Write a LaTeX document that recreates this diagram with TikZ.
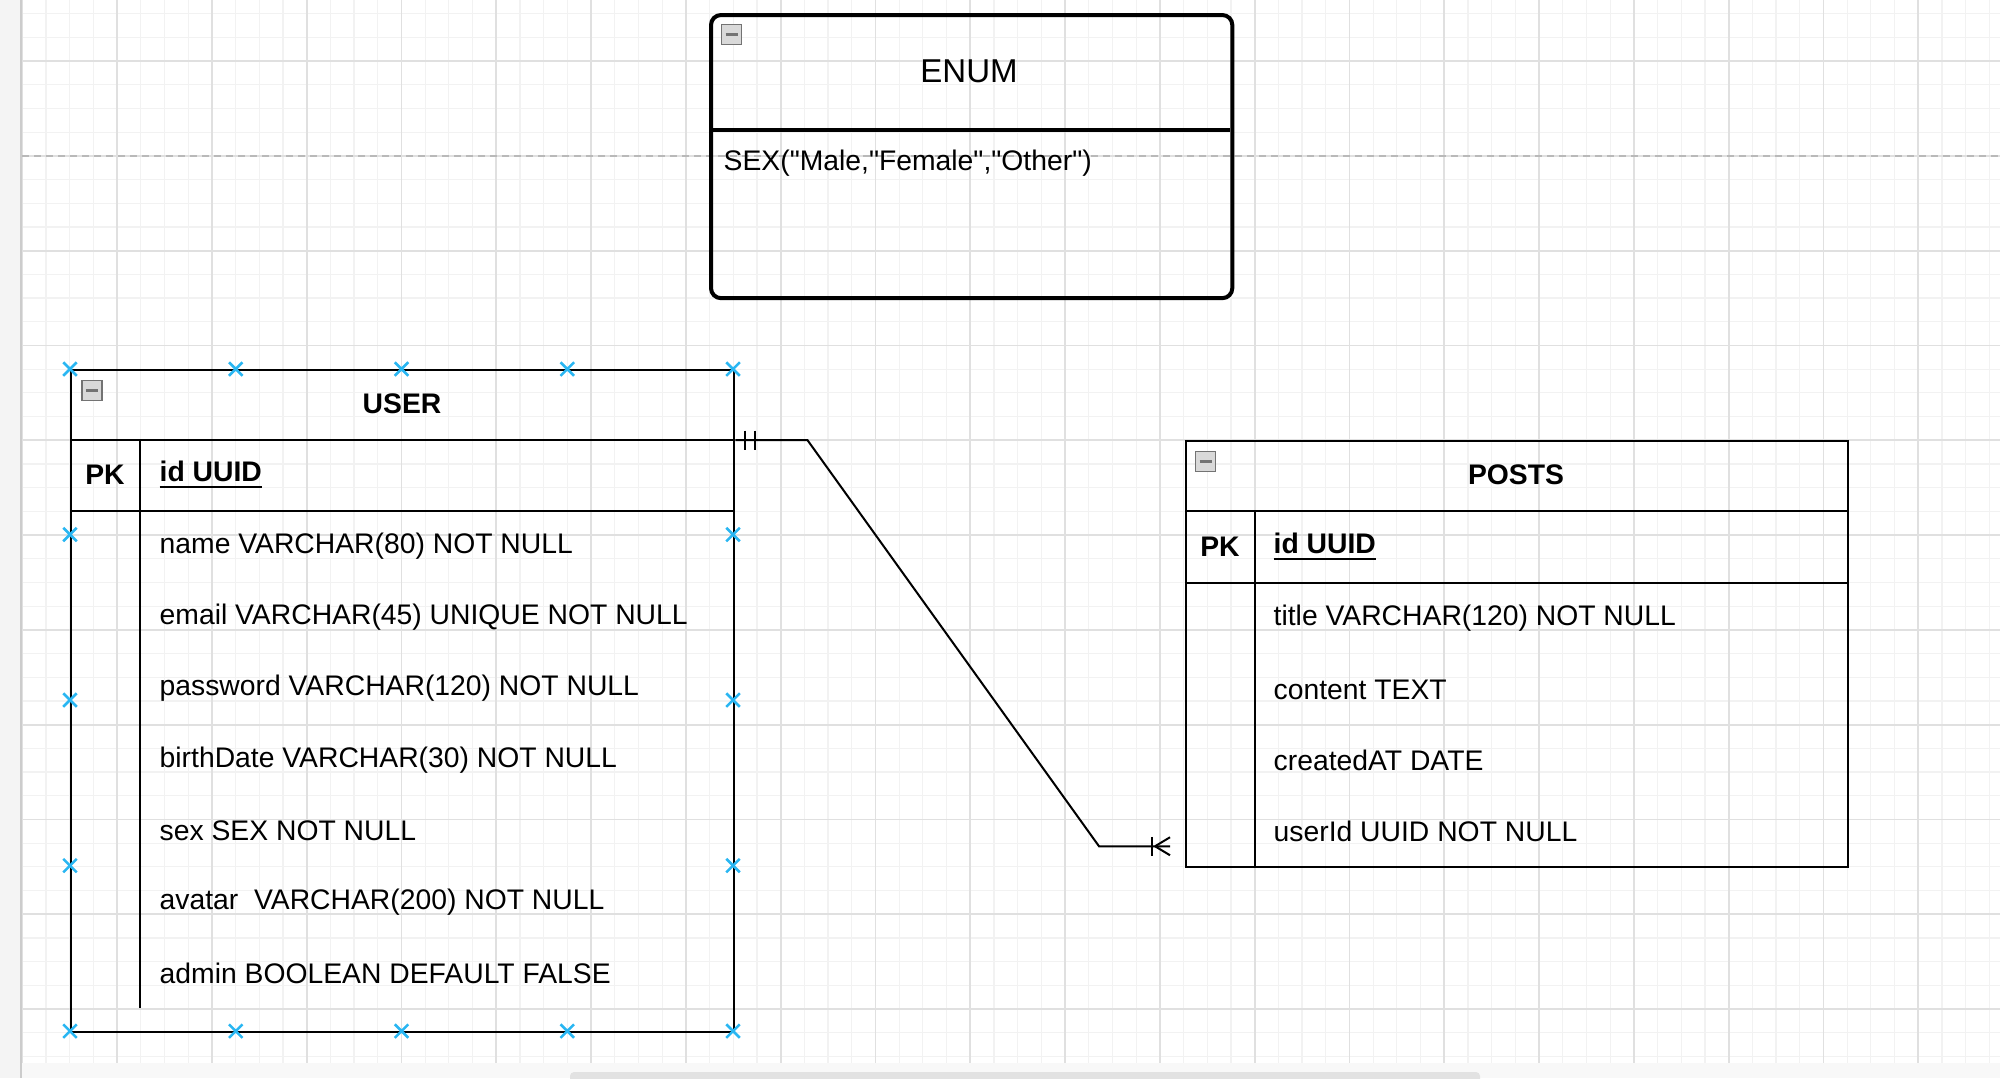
\documentclass[tikz,border=0pt]{standalone}
\usepackage{fontspec}
\setmainfont{Liberation Sans}[Ligatures=TeXReset]
\usetikzlibrary{calc,shapes.misc}

\definecolor{gridmajor}{HTML}{E0E0E0}
\definecolor{gridminor}{HTML}{F2F2F2}
\definecolor{sidegray}{HTML}{F4F4F4}
\definecolor{scrollgray}{HTML}{E2E2E2}
\definecolor{handleblue}{HTML}{29B6F2}
\newcommand\erfont{\fontsize{8.05pt}{9.7pt}\selectfont}

\begin{document}
\begin{tikzpicture}[x=0.01cm, y=-0.01cm,
    every node/.style={font=\erfont},
    tbl/.style={draw, line width=0.02cm, inner sep=0, anchor=north west},
    sep/.style={line width=0.02cm},
    ttl/.style={font=\erfont\bfseries},
    pkcell/.style={font=\erfont\bfseries, inner sep=0},
    fld/.style={anchor=west, inner sep=0},
    rel/.style={line width=0.02cm},
    minus/.style={draw=gray!90!black, fill=gray!30, line width=0.015cm,
        minimum size=0.2cm, inner sep=0,
        path picture={\draw[line width=0.03cm]
            ([xshift=-0.06cm]path picture bounding box.center) --
            ([xshift=0.06cm]path picture bounding box.center);}},
    handle/.style={cross out, draw=handleblue, line width=0.025cm,
        minimum size=0.11cm, inner sep=0}
    ]
    \useasboundingbox (0,0) rectangle (2000,1078);

    % canvas, grid and page break
    \fill[sidegray] (0,0) rectangle (21,1078);
    \fill[sidegray!60] (21,1063) rectangle (2000,1078);
    \fill[scrollgray, rounded corners=0.04cm] (570,1072) rectangle (1480,1086);
    \begin{scope}
        \clip (22,0) rectangle (2000,1063);
        \foreach \i in {0,...,83}
            \draw[gridminor, line width=0.012cm] (22.2+23.7*\i,0) -- (22.2+23.7*\i,1063);
        \foreach \j in {-3,...,42}
            \draw[gridminor, line width=0.012cm] (22,61+23.7*\j) -- (2000,61+23.7*\j);
        \foreach \i in {0,...,20}
            \draw[gridmajor, line width=0.018cm] (22.2+94.8*\i,0) -- (22.2+94.8*\i,1063);
        \foreach \j in {0,...,10}
            \draw[gridmajor, line width=0.018cm] (22,61+94.8*\j) -- (2000,61+94.8*\j);
    \end{scope}
    \draw[gray!40, line width=0.015cm] (21,0) -- (21,1078);
    \draw[gray!55, line width=0.015cm, dash pattern=on 0.07cm off 0.05cm] (22,155.8) -- (2000,155.8);

    % ENUM
    \node[tbl, line width=0.04cm, rounded corners=0.1cm,
        minimum width=5.21cm, minimum height=2.83cm] (enum) at (709,13) {};
    \draw[line width=0.04cm] (enum.north west) ++(0,117) -- ++(521,0);
    \node[minus] (enummin) at (731.5,34.5) {};
    \node[font=\fontsize{9.4pt}{11pt}\selectfont] (enumtitle) at (969,71) {ENUM};
    \node[fld] (sex) at (723,163) {SEX("Male,"Female","Other")};

    % USER
    \node[tbl, minimum width=6.63cm, minimum height=6.62cm] (user) at (70,369) {};
    \draw[sep] (user.north west) ++(0,71) -- ++(663,0);
    \draw[sep] (user.north west) ++(0,142) -- ++(663,0);
    \draw[sep] (user.north west) ++(70,71) -- ++(0,568);
    \node[minus] (usermin) at (92,390.5) {};
    \node[ttl] (usertitle) at (402,404) {USER};
    \node[pkcell] (userpk) at (105,475) {PK};
    \node[fld, font=\erfont\bfseries] (userid) at (159,475) {\underline{id UUID}};
    \foreach \t [count=\k] in {name VARCHAR(80) NOT NULL,
        email VARCHAR(45) UNIQUE NOT NULL,
        password VARCHAR(120) NOT NULL,
        birthDate VARCHAR(30) NOT NULL,
        sex SEX NOT NULL,
        avatar\ \ VARCHAR(200) NOT NULL,
        admin BOOLEAN DEFAULT FALSE}
        \node[fld] (user\k) at (159,475+71.2*\k) {\t};

    % POSTS
    \node[tbl, minimum width=6.62cm, minimum height=4.26cm] (posts) at (1185,440) {};
    \draw[sep] (posts.north west) ++(0,71) -- ++(662,0);
    \draw[sep] (posts.north west) ++(0,143) -- ++(662,0);
    \draw[sep] (posts.north west) ++(70,71) -- ++(0,355);
    \node[minus] (postsmin) at (1205.5,461.5) {};
    \node[ttl] (poststitle) at (1516,475) {POSTS};
    \node[pkcell] (postspk) at (1220,547) {PK};
    \node[fld, font=\erfont\bfseries] (postsid) at (1273,547) {\underline{id UUID}};
    \foreach \t [count=\k] in {title VARCHAR(120) NOT NULL,
        content TEXT,
        createdAT DATE,
        userId UUID NOT NULL}
        \node[fld] (posts\k) at (1273,547+71.2*\k) {\t};

    % relation user 1 -- n posts
    \path (user.north east) ++(0,71) coordinate (one) ++(72,0) coordinate (bend1);
    \path (posts.south west) ++(-15,-22) coordinate (many) ++(-71,0) coordinate (bend2);
    \draw[rel] (one) -- (bend1) -- (bend2) -- (many);
    \draw[rel] ($(one)+(10,-9.5)$) -- ++(0,19);
    \draw[rel] ($(one)+(20,-9.5)$) -- ++(0,19);
    \draw[rel] ($(many)+(-15,0)$) -- ($(many)+(0,-9)$);
    \draw[rel] ($(many)+(-15,0)$) -- ($(many)+(0,9)$);
    \draw[rel] ($(many)+(-18,-9.5)$) -- ++(0,19);

    % selection handles
    \foreach \i in {0,...,4} {
        \node[handle] (ht\i) at (70+165.75*\i,369) {};
        \node[handle] (hb\i) at (70+165.75*\i,1031) {};
    }
    \foreach \j in {1,2,3} {
        \node[handle] (hl\j) at (70,369+165.5*\j) {};
        \node[handle] (hr\j) at (733,369+165.5*\j) {};
    }
\end{tikzpicture}
\end{document}
